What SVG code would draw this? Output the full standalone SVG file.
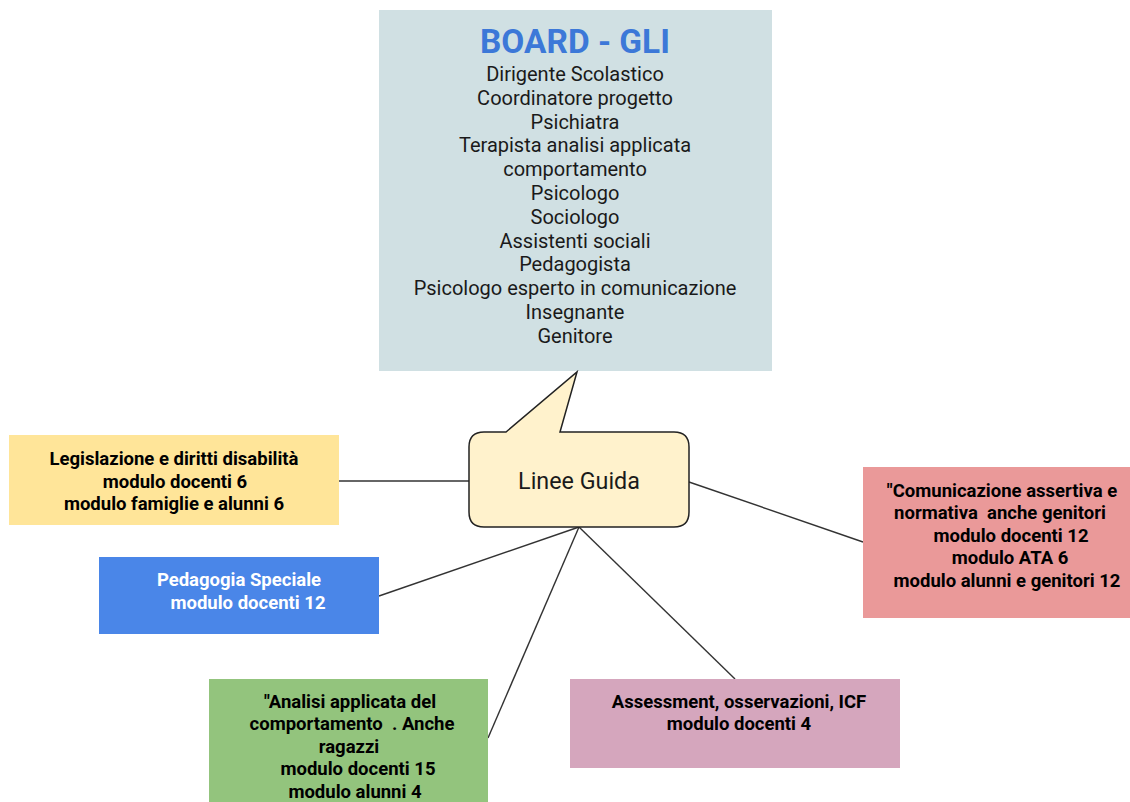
<svg xmlns="http://www.w3.org/2000/svg" width="1130" height="802" viewBox="0 0 1130 802">
<style>
.b{font-family:Roboto,"Liberation Sans",sans-serif;font-weight:bold;font-size:18.5px;fill:#000;text-anchor:middle;white-space:pre}
.r{font-family:Roboto,"Liberation Sans",sans-serif;font-size:20px;fill:#1a1a1a;text-anchor:middle}
.c{stroke:#333;stroke-width:1.4;fill:none}
</style>
<rect width="1130" height="802" fill="#fff"/>
<g id="connectors">
<line class="c" x1="339" y1="481" x2="470" y2="481"/>
<line class="c" x1="379" y1="596" x2="579" y2="527"/>
<line class="c" x1="488" y1="738" x2="579" y2="527"/>
<line class="c" x1="579" y1="527" x2="735" y2="679"/>
<line class="c" x1="689" y1="482" x2="863" y2="542"/>
</g>
<g id="board">
<rect x="379" y="10" width="393" height="361" fill="#d0e0e3"/>
<text x="575" y="53" style="font-family:Roboto,'Liberation Sans',sans-serif;font-weight:bold;font-size:33.4px;fill:#3c78d8;text-anchor:middle">BOARD - GLI</text>
<text class="r" x="575" y="81">Dirigente Scolastico</text>
<text class="r" x="575" y="104.8">Coordinatore progetto</text>
<text class="r" x="575" y="128.6">Psichiatra</text>
<text class="r" x="575" y="152.4">Terapista analisi applicata</text>
<text class="r" x="575" y="176.2">comportamento</text>
<text class="r" x="575" y="200">Psicologo</text>
<text class="r" x="575" y="223.8">Sociologo</text>
<text class="r" x="575" y="247.6">Assistenti sociali</text>
<text class="r" x="575" y="271.4">Pedagogista</text>
<text class="r" x="575" y="295.2">Psicologo esperto in comunicazione</text>
<text class="r" x="575" y="319">Insegnante</text>
<text class="r" x="575" y="342.8">Genitore</text>
</g>
<g id="linee-guida">
<path d="M484,432 L506,432 L577,372 L560,432 L674,432 Q689,432 689,447 L689,512 Q689,527 674,527 L484,527 Q469,527 469,512 L469,447 Q469,432 484,432 Z" fill="#fff2cc" stroke="#222" stroke-width="1.5"/>
<text x="579" y="488.5" style="font-family:Roboto,'Liberation Sans',sans-serif;font-size:23.3px;fill:#1a1a1a;text-anchor:middle">Linee Guida</text>
</g>
<g id="legislazione">
<rect x="9" y="435" width="330" height="90" fill="#ffe599"/>
<text class="b" x="174" y="465">Legislazione e diritti disabilità</text>
<text class="b" x="175" y="487.5">modulo docenti 6</text>
<text class="b" x="174" y="510">modulo famiglie e alunni 6</text>
</g>
<g id="pedagogia">
<rect x="99" y="557" width="280" height="77" fill="#4a86e8"/>
<text class="b" x="239" y="586" style="fill:#fff">Pedagogia Speciale</text>
<text class="b" x="248" y="608.5" style="fill:#fff">modulo docenti 12</text>
</g>
<g id="comunicazione">
<rect x="863" y="467" width="267" height="151" fill="#ea9999"/>
<text class="b" x="1002" y="496.5">"Comunicazione assertiva e</text>
<text class="b" x="1000" y="519">normativa  anche genitori</text>
<text class="b" x="1011" y="541.5">modulo docenti 12</text>
<text class="b" x="1010" y="564">modulo ATA 6</text>
<text class="b" x="1007" y="586.5">modulo alunni e genitori 12</text>
</g>
<g id="analisi">
<rect x="209" y="679" width="279" height="130" fill="#93c47d"/>
<text class="b" x="350" y="707.5">"Analisi applicata del</text>
<text class="b" x="352" y="730">comportamento  . Anche</text>
<text class="b" x="349" y="752.5">ragazzi</text>
<text class="b" x="358" y="775">modulo docenti 15</text>
<text class="b" x="355" y="797.5">modulo alunni 4</text>
</g>
<g id="assessment">
<rect x="570" y="679" width="330" height="89" fill="#d5a6bd"/>
<text class="b" x="739" y="707.5">Assessment, osservazioni, ICF</text>
<text class="b" x="739" y="729.5">modulo docenti 4</text>
</g>
</svg>
